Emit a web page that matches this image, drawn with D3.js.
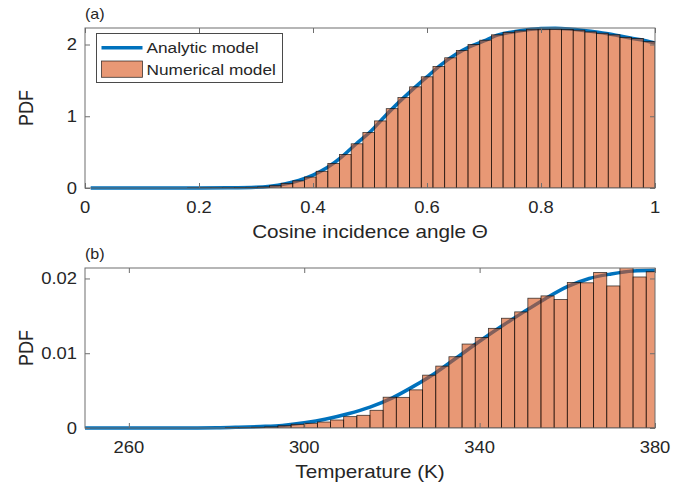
<!DOCTYPE html>
<html>
<head>
<meta charset="utf-8">
<script src="https://cdn.jsdelivr.net/npm/d3@7"></script>
<style>
    body { margin: 0; background: #fff; }
    svg { display: block; }
    text { font-family: "Liberation Sans", Arial, Helvetica, sans-serif; fill: #262626; }
</style>
</head>
<body>
<svg width="699" height="487"></svg>
<script>
// (a) cosine incidence angle
const angleBinStart = 0.18
const angleBinWidth = 0.0205
const angleBars = [0.002, 0.003, 0.004, 0.005, 0.007, 0.01, 0.015, 0.032, 0.065, 0.1,
    0.153, 0.233, 0.343, 0.468, 0.616, 0.773, 0.935, 1.106, 1.26, 1.41,
    1.55, 1.694, 1.815, 1.917, 2.0, 2.06, 2.135, 2.17, 2.19, 2.213,
    2.213, 2.213, 2.21, 2.2, 2.176, 2.157, 2.135, 2.1, 2.083, 2.04]
const angleCurveX = [0.01, 0.1, 0.2, 0.25, 0.3, 0.325, 0.35, 0.375, 0.4, 0.425, 0.45, 0.475, 0.5,
    0.525, 0.55, 0.575, 0.6, 0.625, 0.65, 0.675, 0.7, 0.725, 0.75, 0.775, 0.8, 0.825, 0.85,
    0.875, 0.9, 0.925, 0.95, 0.975, 1.0]
const angleCurveY = [0, 0, 0.001, 0.003, 0.01, 0.025, 0.055, 0.105, 0.18, 0.285, 0.43, 0.61, 0.78,
    0.99, 1.19, 1.375, 1.55, 1.72, 1.86, 1.97, 2.05, 2.135, 2.175, 2.205, 2.222, 2.225, 2.215,
    2.195, 2.17, 2.14, 2.1, 2.065, 2.02]
const angleXTicks = [0, 0.2, 0.4, 0.6, 0.8, 1]
const angleYTicks = [0, 1, 2]

// (b) temperature
const tempBinStart = 282
const tempBinWidth = 3
const tempBars = [0.00005, 0.00005, 0.0001, 0.00015, 0.0003, 0.0005,
    0.00063, 0.0008, 0.00107, 0.00152, 0.0017, 0.00237, 0.00412, 0.0041, 0.0051, 0.00707,
    0.00828, 0.00953, 0.01123, 0.01212, 0.01333, 0.01468, 0.01553, 0.01736, 0.01767, 0.01718,
    0.01946, 0.01942, 0.0208, 0.019, 0.0216, 0.0202, 0.0209]
const tempCurveX = [250, 270, 280, 285, 290, 295, 300, 305, 310, 315, 320, 325, 330, 335, 340,
    345, 350, 355, 360, 365, 370, 375, 380]
const tempCurveY = [0, 0, 0.00003, 0.0001, 0.0002, 0.00035, 0.0007, 0.0012, 0.0019, 0.0028, 0.004,
    0.0056, 0.0074, 0.0095, 0.0116, 0.0136, 0.0155, 0.0173, 0.0189, 0.02, 0.0206, 0.021, 0.0211]
const tempXTicks = [260, 300, 340, 380]
const tempYTicks = [0, 0.01, 0.02]

const STRETCH = 1.15   // the reference text is a little wide
const blue = "#0072BD"
const orange = "#D95319"
const boxColor = "#6e6e6e"

const svg = d3.select("svg")

function addText(x, y, str, size, anchor, rotate = 0) {
    return svg.append("text")
        .attr("transform", `translate(${x},${y}) scale(${STRETCH},1) rotate(${rotate})`)
        .attr("text-anchor", anchor)
        .style("font-size", size + "px")
        .text(str)
}

function panel(p) {
    const left = 85, right = 655
    const xScale = d3.scaleLinear().domain(p.xDomain).range([left, right])
    const yScale = d3.scaleLinear().domain(p.yDomain).range([p.bottom, p.top])

    svg.append("clipPath").attr("id", p.id)
        .append("rect")
        .attr("x", left).attr("y", p.top)
        .attr("width", right - left).attr("height", p.bottom - p.top)

    const line = d3.line()
        .x(d => xScale(d[0]))
        .y(d => yScale(d[1]))
        .curve(d3.curveMonotoneX)

    svg.append("path")
        .attr("d", line(d3.zip(p.curveX, p.curveY)))
        .attr("fill", "none")
        .attr("stroke", blue)
        .attr("stroke-width", 3.5)

    svg.append("g")
        .attr("clip-path", `url(#${p.id})`)
        .selectAll("rect")
        .data(p.bars)
        .enter()
        .append("rect")
        .attr("x", (d, i) => xScale(p.binStart + i * p.binWidth))
        .attr("width", (d, i) => xScale(p.binStart + (i + 1) * p.binWidth) - xScale(p.binStart + i * p.binWidth))
        .attr("y", d => yScale(d))
        .attr("height", d => p.bottom - yScale(d))
        .attr("fill", orange)
        .attr("fill-opacity", 0.6)
        .attr("stroke", "#000")
        .attr("stroke-opacity", 0.75)
        .attr("stroke-width", 0.8)

    // inward ticks on all four sides
    const ticks = [
        [d3.axisBottom(xScale).tickValues(p.xTicks), `translate(0,${p.bottom})`],
        [d3.axisTop(xScale).tickValues(p.xTicks), `translate(0,${p.top})`],
        [d3.axisLeft(yScale).tickValues(p.yTicks), `translate(${left},0)`],
        [d3.axisRight(yScale).tickValues(p.yTicks), `translate(${right},0)`]
    ]
    ticks.forEach(([axis, tr]) => {
        const g = svg.append("g")
            .attr("transform", tr)
            .call(axis.tickSizeInner(-5).tickSizeOuter(0).tickFormat(""))
        g.select("path.domain").remove()
        g.selectAll("line").attr("stroke", boxColor).attr("stroke-width", 1)
    })

    svg.append("rect")
        .attr("x", left).attr("y", p.top)
        .attr("width", right - left).attr("height", p.bottom - p.top)
        .attr("fill", "none")
        .attr("stroke", boxColor)
        .attr("stroke-width", 1)

    p.xTicks.forEach(t => addText(xScale(t), p.bottom + 24.5, String(t), 16, "middle"))
    p.yTicks.forEach(t => addText(77, yScale(t) + 5.5, String(t), 16, "end"))

    addText((left + right) / 2, p.bottom + 49.5, p.xLabel, 18, "middle")
    addText(33, (p.top + p.bottom) / 2, "PDF", 18, "middle", -90)
    addText(left, p.top - 9, p.tag, 14, "start")
}

panel({
    id: "clipA", top: 28, bottom: 188,
    xDomain: [0, 1], yDomain: [0, 2.23],
    bars: angleBars, binStart: angleBinStart, binWidth: angleBinWidth,
    curveX: angleCurveX, curveY: angleCurveY,
    xTicks: angleXTicks, yTicks: angleYTicks,
    xLabel: "Cosine incidence angle \u0398", tag: "(a)"
})

panel({
    id: "clipB", top: 268, bottom: 428,
    xDomain: [250, 380], yDomain: [0, 0.0214],
    bars: tempBars, binStart: tempBinStart, binWidth: tempBinWidth,
    curveX: tempCurveX, curveY: tempCurveY,
    xTicks: tempXTicks, yTicks: tempYTicks,
    xLabel: "Temperature (K)", tag: "(b)"
})

// legend of panel (a)
const legend = svg.append("g")
legend.append("rect")
    .attr("x", 96.5).attr("y", 33.5)
    .attr("width", 186).attr("height", 49)
    .attr("fill", "#fff")
    .attr("stroke", "#4a4a4a")
    .attr("stroke-width", 1)
legend.append("line")
    .attr("x1", 101.5).attr("x2", 142.5)
    .attr("y1", 47.7).attr("y2", 47.7)
    .attr("stroke", blue)
    .attr("stroke-width", 3.5)
legend.append("rect")
    .attr("x", 101.5).attr("y", 61)
    .attr("width", 41).attr("height", 16.3)
    .attr("fill", orange)
    .attr("fill-opacity", 0.6)
    .attr("stroke", "#000")
    .attr("stroke-opacity", 0.75)
    .attr("stroke-width", 0.8)
addText(146.5, 47.7 + 5.4, "Analytic model", 15, "start")
addText(146.5, 69.2 + 5.4, "Numerical model", 15, "start")
</script>
</body>
</html>
